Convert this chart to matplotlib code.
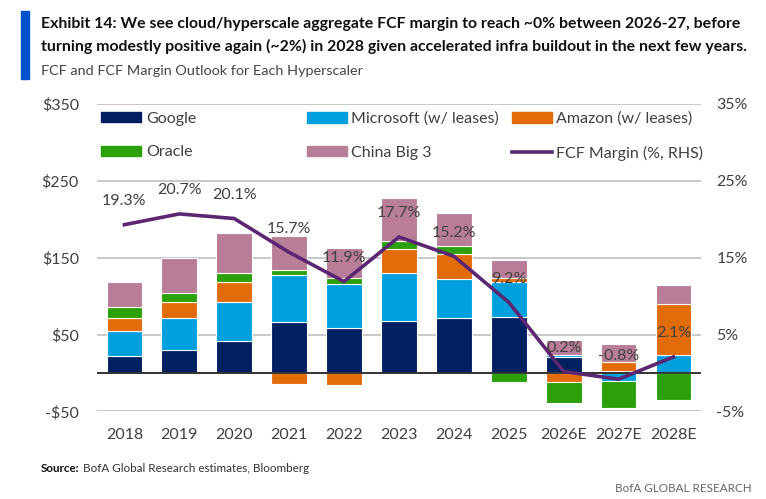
import numpy as np
import matplotlib
matplotlib.use("Agg")
import matplotlib.pyplot as plt
from matplotlib.patches import Patch
from matplotlib.lines import Line2D

# FCF by company, $bn
years = ["2018", "2019", "2020", "2021", "2022", "2023", "2024", "2025", "2026E", "2027E", "2028E"]
google = [22, 30, 42, 66, 59, 68, 72, 73, 21, 3, 0]
microsoft = [33, 41, 51, 61, 57, 62, 50, 45, 3, -11, 24]
amazon = [17, 21, 26, -14, -16, 32, 33, 5, -12, 12, 66]
oracle = [14, 12, 11, 7, 8, 10, 10, -12, -27, -35, -35]
china = [33, 46, 52, 44, 39, 56, 43, 24, 19, 23, 25]
fcf_margin = [19.3, 20.7, 20.1, 15.7, 11.9, 17.7, 15.2, 9.2, 0.2, -0.8, 2.1]

left_ticks = [-50, 50, 150, 250, 350]
right_ticks = [-5, 5, 15, 25, 35]

names = ["Google", "Microsoft (w/ leases)", "Amazon (w/ leases)", "Oracle", "China Big 3"]
colors = ["#002060", "#00A0DF", "#E36C0A", "#2CA00A", "#B97E97"]
line_color = "#5C2672"
txt = "#404040"

plt.rcParams["font.family"] = ["Lato", "DejaVu Sans"]

fig = plt.figure(figsize=(7.66, 4.99), dpi=100)
ax = fig.add_axes([0.1266, 0.1754, 0.7885, 0.6162])

x = np.arange(len(years))
pos_bottom = np.zeros(len(years))
neg_bottom = np.zeros(len(years))
for vals, col in zip([google, microsoft, amazon, oracle, china], colors):
    v = np.array(vals, dtype=float)
    b = np.where(v >= 0, pos_bottom, neg_bottom)
    ax.bar(x, v, bottom=b, width=0.65, color=col, edgecolor="white", linewidth=0.8, zorder=2)
    pos_bottom += np.clip(v, 0, None)
    neg_bottom += np.clip(v, None, 0)

ax.axhline(0, color="#333333", lw=1.4, zorder=3)
ax.set_xlim(-0.5, len(years) - 0.5)
ax.set_ylim(-50, 350)
ax.set_yticks(left_ticks)
ax.set_yticklabels([f"-${-t}" if t < 0 else f"${t}" for t in left_ticks])
ax.set_xticks(x)
ax.set_xticklabels(years)
ax.yaxis.grid(True, color="#C8C8C8", lw=1.4, zorder=0)
ax.set_axisbelow(True)
for s in ax.spines.values():
    s.set_visible(False)
ax.tick_params(axis="y", length=0, pad=13, labelsize=11.5, labelcolor=txt)
ax.tick_params(axis="x", length=0, pad=12, labelsize=11.5, labelcolor=txt)

ax2 = ax.twinx()
ax2.set_ylim(-5, 35)
ax2.set_yticks(right_ticks)
ax2.set_yticklabels([f"{t}%" for t in right_ticks])
for s in ax2.spines.values():
    s.set_visible(False)
ax2.tick_params(axis="y", length=0, pad=11, labelsize=11.5, labelcolor=txt)
ax2.plot(x, fcf_margin, color=line_color, lw=2.6, zorder=4, solid_joinstyle="miter")
for xi, m in zip(x, fcf_margin):
    ax2.annotate(f"{m:.1f}%", (xi, m), xytext=(0, 17), textcoords="offset points",
                 ha="center", va="center", fontsize=11.5, color=txt, zorder=5)

# legend in three columns
h = [Patch(color=c) for c in colors] + [Line2D([], [], color=line_color, lw=2.6)]
labels = names + ["FCF Margin (%, RHS)"]
cols = [[0, 3], [1, 4], [2, 5]]
for cx, idx in zip([0.1319, 0.4004, 0.668], cols):
    lg = fig.legend([h[i] for i in idx], [labels[i] for i in idx], loc="upper left",
                    bbox_to_anchor=(cx, 0.776), frameon=False, fontsize=11.5,
                    borderpad=0, borderaxespad=0, handlelength=2.5, handleheight=0.6,
                    handletextpad=0.3, labelspacing=1.22)
    for t in lg.get_texts():
        t.set_color(txt)

# title block
fig.patches.append(plt.Rectangle((21 / 766, 1 - 79 / 499), 8 / 766, 68 / 499,
                                 transform=fig.transFigure, color="#0052CC"))
fig.text(41 / 766, 1 - 28 / 499,
         "Exhibit 14: We see cloud/hyperscale aggregate FCF margin to reach ~0% between 2026-27, before",
         fontsize=11.4, fontweight="bold", color="#111111", va="baseline")
fig.text(41 / 766, 1 - 51 / 499,
         "turning modestly positive again (~2%) in 2028 given accelerated infra buildout in the next few years.",
         fontsize=11.4, fontweight="bold", color="#111111", va="baseline")
fig.text(41 / 766, 1 - 75 / 499, "FCF and FCF Margin Outlook for Each Hyperscaler",
         fontsize=10.4, color="#444444", va="baseline")

fig.text(41 / 766, 1 - 472 / 499, "Source:", fontsize=8.4, fontweight="bold", color="#111111", va="baseline")
fig.text(83 / 766, 1 - 472 / 499, "BofA Global Research estimates, Bloomberg", fontsize=8.4, color="#333333", va="baseline")
fig.text(752 / 766, 1 - 492 / 499, "BofA GLOBAL RESEARCH", fontsize=8.4, color="#666666", va="baseline", ha="right")

fig.savefig("out.png", dpi=100)
